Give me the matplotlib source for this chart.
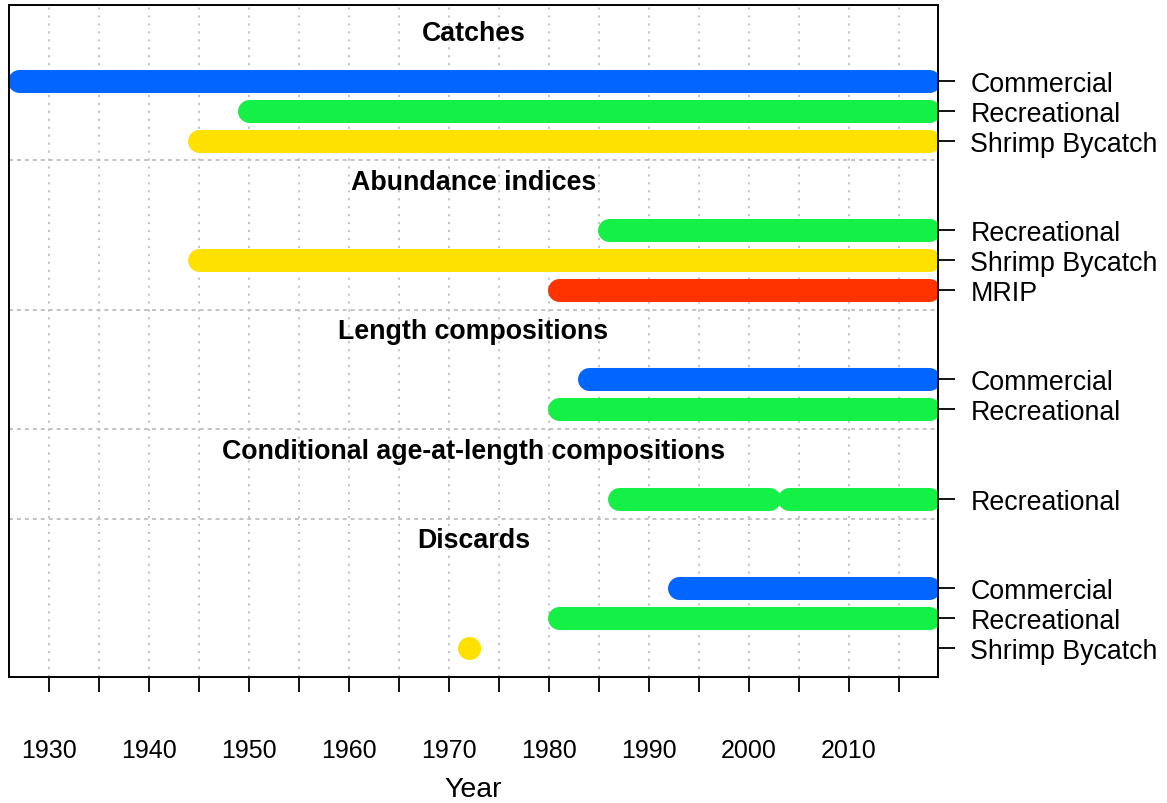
import matplotlib
matplotlib.use("Agg")
import matplotlib.pyplot as plt

# ---------------- data ----------------
group_titles = ["Catches", "Abundance indices", "Length compositions",
                "Conditional age-at-length compositions", "Discards"]

catch_fleets = ["Commercial", "Recreational", "Shrimp Bycatch"]
catch_spans = [[(1927, 2018)], [(1950, 2018)], [(1945, 2018)]]

index_fleets = ["Recreational", "Shrimp Bycatch", "MRIP"]
index_spans = [[(1986, 2018)], [(1945, 2018)], [(1981, 2018)]]

length_fleets = ["Commercial", "Recreational"]
length_spans = [[(1984, 2018)], [(1981, 2018)]]

caal_fleets = ["Recreational"]
caal_spans = [[(1987, 2002), (2004, 2018)]]

discard_fleets = ["Commercial", "Recreational", "Shrimp Bycatch"]
discard_spans = [[(1993, 2018)], [(1981, 2018)], [(1972, 1972)]]

fleet_colors = {"Commercial": "#0066FF", "Recreational": "#14F046",
                "Shrimp Bycatch": "#FFE100", "MRIP": "#FF3300"}

x_ticks = list(range(1930, 2016, 5))
x_labels = [str(t) if t % 10 == 0 else "" for t in x_ticks]
xlim = (1926.0, 2018.9)

groups = [
    (group_titles[0], catch_fleets, catch_spans),
    (group_titles[1], index_fleets, index_spans),
    (group_titles[2], length_fleets, length_spans),
    (group_titles[3], caal_fleets, caal_spans),
    (group_titles[4], discard_fleets, discard_spans),
]

# ---------------- plot ----------------
plt.rcParams["font.family"] = ["Liberation Sans", "DejaVu Sans"]

fig = plt.figure(figsize=(11.67, 8.04), dpi=100)
ax = fig.add_axes([9 / 1167, 1 - 678 / 804, (938 - 9) / 1167, (678 - 6) / 804])

grid_col = "#BEBEBE"
for t in x_ticks:
    ax.axvline(t, color=grid_col, lw=1.3, ls=(0, (1.2, 3.2)), zorder=0)

lw_bar = 16.6
row = 0
ytick_pos, ytick_lab = [], []
separators = []
for gi, (title, fleets, spans) in enumerate(groups):
    first = row
    ax.text(sum(xlim) / 2, first - 1.38, title, ha="center", va="baseline",
            fontsize=19.3, fontweight="bold", zorder=3)
    for fleet, segs in zip(fleets, spans):
        col = fleet_colors[fleet]
        for (a, b) in segs:
            if a == b:
                ax.plot([a], [row], marker="o", ms=lw_bar, color=col,
                        mec="none", ls="none", zorder=2)
            else:
                ax.plot([a, b], [row, row], color=col, lw=lw_bar,
                        solid_capstyle="round", zorder=2)
        ytick_pos.append(row)
        ytick_lab.append(fleet)
        row += 1
    last = row - 1
    if gi < len(groups) - 1:
        separators.append(last + 0.66)
    row = last + 3

for s in separators:
    ax.axhline(s, color=grid_col, lw=1.3, ls=(0, (2.2, 2.2)), zorder=0)

ax.set_xlim(*xlim)
ax.set_ylim(ytick_pos[-1] + 0.97, -2.55)

ax.set_xticks(x_ticks)
ax.set_xticklabels(x_labels, fontsize=18)
ax.tick_params(axis="x", length=11, width=1.3, pad=33)

ax.yaxis.tick_right()
ax.set_yticks(ytick_pos)
ax.set_yticklabels(ytick_lab, fontsize=19.3)
ax.tick_params(axis="y", length=12.3, width=1.3, pad=11)

for sp in ax.spines.values():
    sp.set_linewidth(1.4)

ax.set_xlabel("Year", fontsize=20.5, labelpad=10)

fig.savefig("out.png", dpi=100)
